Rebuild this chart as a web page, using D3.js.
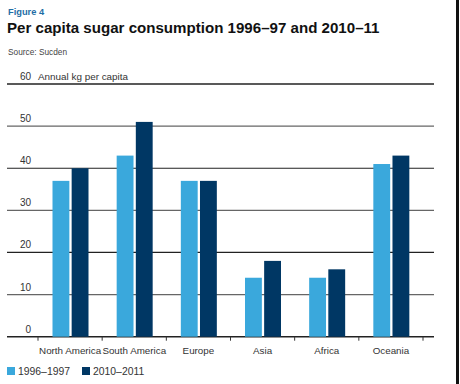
<!DOCTYPE html>
<html>
<head>
<meta charset="utf-8">
<script src="https://cdn.jsdelivr.net/npm/d3@7"></script>
<style>
  body { margin: 0; background: #fff; }
  text { font-family: "Liberation Sans", Arial, sans-serif; }
</style>
</head>
<body>
<div id="chart"></div>
<script>
const regions = ['North America', 'South America', 'Europe', 'Asia', 'Africa', 'Oceania'];
const seriesNames = ['1996\u20131997', '2010\u20132011'];
const values9697 = [37, 43, 37, 14, 14, 41];
const values1011 = [40, 51, 37, 18, 16, 43];
const yTicks = [0, 10, 20, 30, 40, 50, 60];
const colors = ['#3aa8dc', '#003764'];

const width = 460, height = 384;
const svg = d3.select('#chart').append('svg')
  .attr('width', width)
  .attr('height', height);

// headings
svg.append('text').attr('x', 8).attr('y', 15)
  .attr('font-size', 9.3).attr('font-weight', 'bold').attr('fill', '#1f6ea6')
  .text('Figure 4');
svg.append('text').attr('x', 7).attr('y', 33)
  .attr('font-size', 15.1).attr('font-weight', 'bold').attr('fill', '#111')
  .text('Per capita sugar consumption 1996\u201397 and 2010\u201311');
svg.append('text').attr('x', 8).attr('y', 55)
  .attr('font-size', 8.3).attr('fill', '#444')
  .text('Source: Sucden');

// scales
const y = d3.scaleLinear().domain([0, 60]).range([336.7, 84]);
const x0 = d3.scaleBand().domain(regions).range([38, 423]).padding(0);
const x1 = d3.scaleBand().domain([0, 1]).range([14.5, 50.5]).paddingInner(0.12);

// gridlines
svg.append('g').selectAll('line')
  .data(yTicks)
  .join('line')
  .attr('x1', 7).attr('x2', 434)
  .attr('y1', d => y(d)).attr('y2', d => y(d))
  .attr('stroke', d => (d === 60 || d === 0) ? '#222' : (d % 20 === 0 ? '#222' : '#666'))
  .attr('stroke-width', d => (d === 60 || d === 0) ? 1.6 : 1.2);

// y labels
svg.append('g').selectAll('text')
  .data(yTicks)
  .join('text')
  .attr('x', 31).attr('y', d => y(d) - 4)
  .attr('text-anchor', 'end')
  .attr('font-size', 10).attr('fill', '#333')
  .text(d => d);
svg.append('text').attr('x', 38).attr('y', y(60) - 4)
  .attr('font-size', 9.9).attr('fill', '#333')
  .text('Annual kg per capita');

// bars
const data = regions.map((r, i) => ({ region: r, vals: [values9697[i], values1011[i]] }));
svg.append('g').selectAll('g')
  .data(data)
  .join('g')
  .attr('transform', d => `translate(${x0(d.region)},0)`)
  .selectAll('rect')
  .data(d => d.vals.map((v, k) => ({ k, v })))
  .join('rect')
  .attr('x', d => x1(d.k))
  .attr('width', x1.bandwidth())
  .attr('y', d => y(d.v))
  .attr('height', d => y(0) - y(d.v))
  .attr('fill', d => colors[d.k]);

// x axis
const xAxis = svg.append('g')
  .attr('transform', `translate(0,${y(0)})`)
  .call(d3.axisBottom(x0).tickSize(0).tickPadding(10));
xAxis.select('.domain').remove();
xAxis.selectAll('text').attr('font-size', 9.8).attr('fill', '#333')
  .attr('font-family', '"Liberation Sans", Arial, sans-serif');
svg.append('g').selectAll('line')
  .data(d3.range(regions.length + 1))
  .join('line')
  .attr('x1', i => 38 + i * x0.step()).attr('x2', i => 38 + i * x0.step())
  .attr('y1', y(0)).attr('y2', y(0) + 4)
  .attr('stroke', '#333').attr('stroke-width', 1);

// legend
const legend = svg.append('g').attr('transform', 'translate(0,367)');
const lx = [7, 82];
seriesNames.forEach((name, i) => {
  legend.append('rect').attr('x', lx[i]).attr('y', 0).attr('width', 8).attr('height', 8)
    .attr('fill', colors[i]);
  legend.append('text').attr('x', lx[i] + 11).attr('y', 8)
    .attr('font-size', 10.4).attr('fill', '#333').text(name);
});

// frame edge on the right
svg.append('rect').attr('x', 456).attr('y', 0).attr('width', 3).attr('height', height)
  .attr('fill', '#111');
</script>
</body>
</html>
